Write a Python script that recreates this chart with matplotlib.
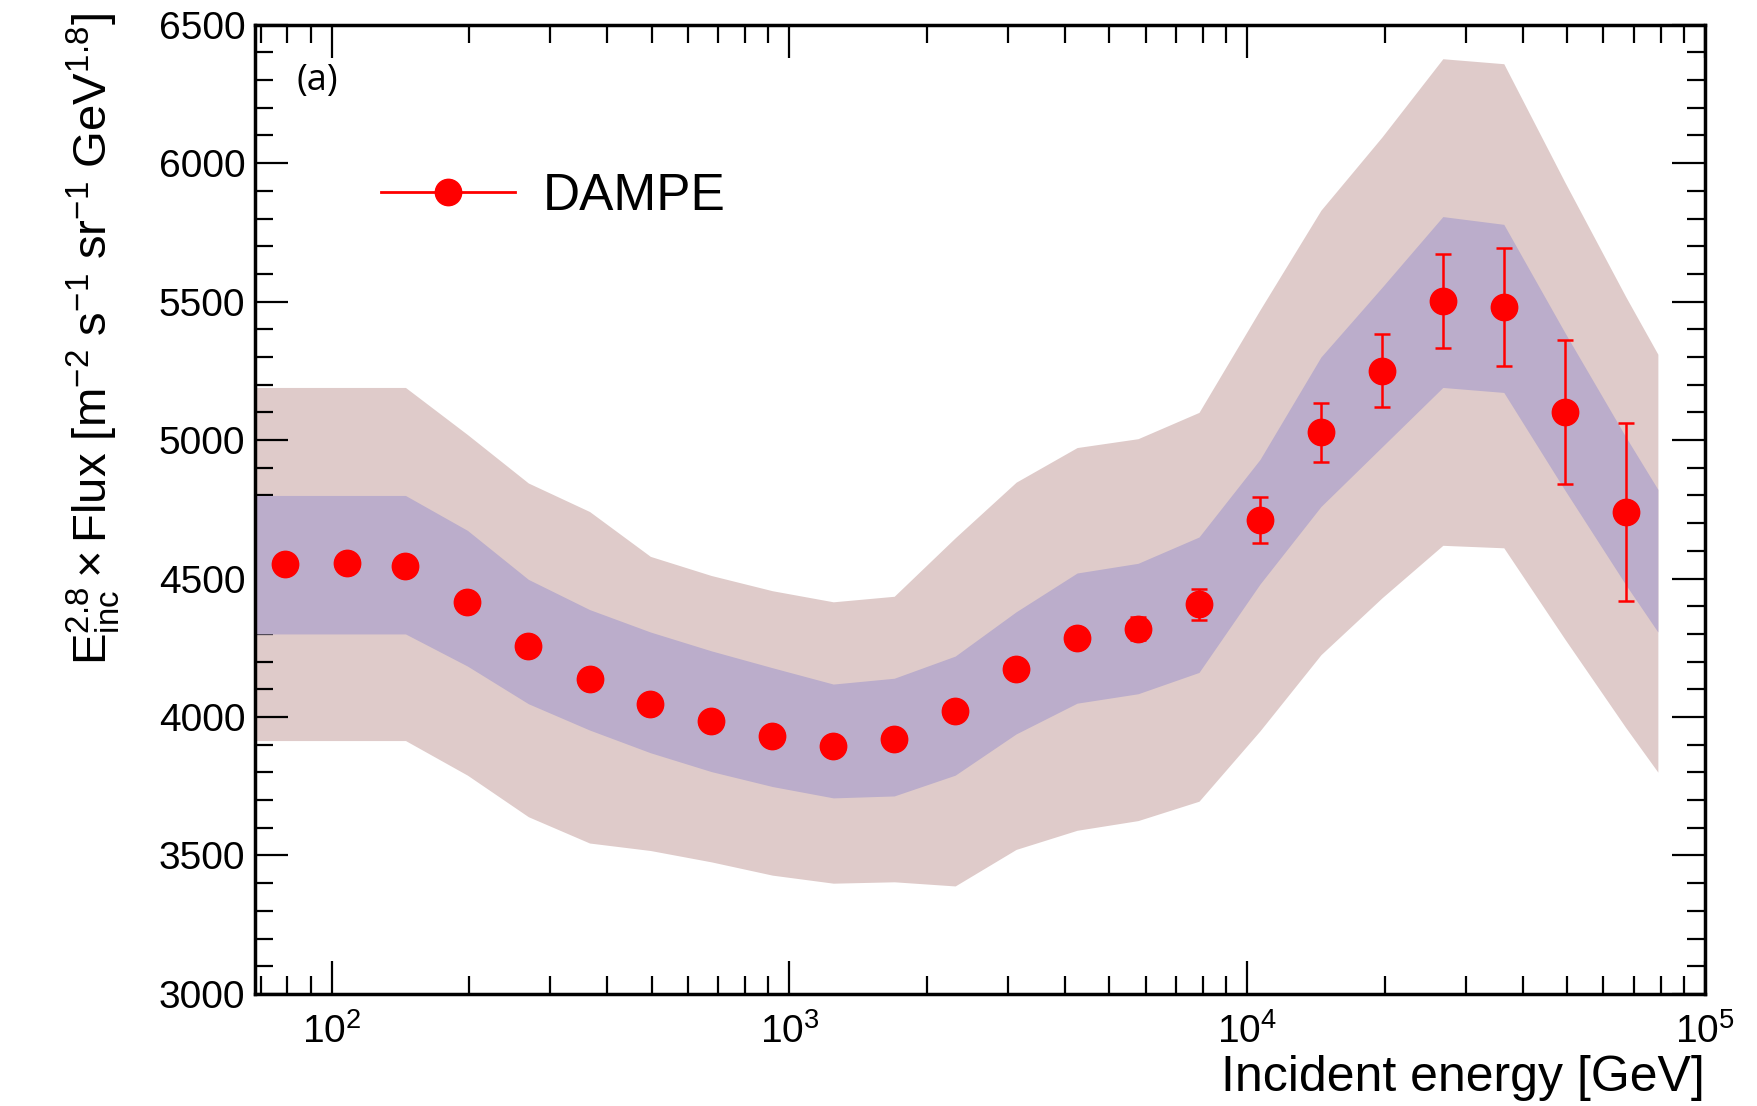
import numpy as np
import matplotlib
matplotlib.use("Agg")
import matplotlib.pyplot as plt
from matplotlib.ticker import MultipleLocator, LogLocator, NullFormatter
from matplotlib.lines import Line2D

plt.rcParams['font.family'] = ['Liberation Sans', 'DejaVu Sans']
plt.rcParams['mathtext.fontset'] = 'custom'
plt.rcParams['mathtext.rm'] = 'Liberation Sans'
plt.rcParams['mathtext.it'] = 'Liberation Sans:italic'

# DAMPE points (incident energy in GeV)
energy = [79, 108, 145, 198, 269, 366, 497, 675, 918, 1247, 1694, 2302,
          3128, 4250, 5775, 7847, 10663, 14489, 19687, 26751, 36349, 49390, 67111]
flux = [4554, 4555, 4547, 4416, 4258, 4137, 4048, 3987, 3931, 3894, 3919, 4020,
        4174, 4287, 4319, 4408, 4712, 5028, 5251, 5503, 5482, 5100, 4740]
flux_err = [12, 12, 13, 14, 15, 16, 17, 18, 20, 22, 24, 27,
            31, 36, 42, 56, 84, 107, 133, 170, 213, 260, 322]

# systematic bands, evaluated at bin edges / centers
band_e = [68] + energy + [78900]
outer_hi = [5190, 5190, 5190, 5190, 5020, 4845, 4742, 4580, 4511, 4456, 4416, 4436, 4647,
            4848, 4973, 5005, 5100, 5470, 5830, 6094, 6377, 6359, 5932, 5518, 5310]
inner_hi = [4800, 4800, 4800, 4800, 4674, 4497, 4388, 4307, 4239, 4178, 4119, 4140, 4220,
            4380, 4520, 4555, 4650, 4930, 5300, 5551, 5807, 5779, 5389, 5012, 4822]
inner_lo = [4300, 4300, 4300, 4300, 4184, 4048, 3953, 3871, 3803, 3749, 3708, 3715, 3790,
            3939, 4050, 4084, 4161, 4480, 4760, 4975, 5190, 5172, 4820, 4478, 4307]
outer_lo = [3915, 3915, 3915, 3915, 3790, 3640, 3545, 3518, 3477, 3429, 3400, 3405, 3390,
            3522, 3591, 3626, 3696, 3950, 4225, 4430, 4620, 4611, 4282, 3962, 3801]

fig = plt.figure(figsize=(17.57, 11.06), dpi=100)
ax = fig.add_axes([0.1451, 0.1013, 0.8253, 0.8764])

ax.fill_between(band_e, outer_lo, outer_hi, color='#dfcbca', lw=0, zorder=1)
ax.fill_between(band_e, inner_lo, inner_hi, color='#bbadcb', lw=0, zorder=2)

ax.errorbar(energy, flux, yerr=flux_err, fmt='o', color='#ff0000', ms=19,
            elinewidth=1.8, capsize=6, capthick=1.8, zorder=3)

ax.set_xscale('log')
ax.set_xlim(68, 1e5)
ax.set_ylim(3000, 6500)

ax.yaxis.set_major_locator(MultipleLocator(500))
ax.yaxis.set_minor_locator(MultipleLocator(100))
ax.xaxis.set_minor_locator(LogLocator(base=10, subs=np.arange(2, 10)))
ax.xaxis.set_minor_formatter(NullFormatter())

ax.tick_params(which='both', direction='in', top=True, right=True, width=1.6)
ax.tick_params(which='major', length=24, labelsize=28)
ax.tick_params(which='minor', length=13)
ax.tick_params(axis='x', pad=14)
ax.tick_params(axis='y', pad=7)
for s in ax.spines.values():
    s.set_linewidth(2.5)

ax.set_xlabel('Incident energy [GeV]', fontsize=36, loc='right', va='center')
ax.xaxis.set_label_coords(1.0, -0.087)
ax.set_ylabel(r'$\mathregular{E_{inc}^{2.8} \times Flux\ [m^{-2}\ s^{-1}\ sr^{-1}\ GeV^{1.8}]}$',
              fontsize=34, loc='top')
ax.yaxis.set_label_coords(-0.092, 1.012)

ax.text(0.029, 0.942, '(a)', transform=ax.transAxes, fontsize=26,
        family='Open Sans', ha='left', va='center')

handle = Line2D([], [], color='#ff0000', marker='o', ms=19, lw=2)
ax.legend([handle], ['DAMPE'], loc='center left', bbox_to_anchor=(0.087, 0.823),
          frameon=False, fontsize=37, handlelength=2.6, handletextpad=0.55,
          borderpad=0, borderaxespad=0)

fig.savefig('out.png', dpi=100)
